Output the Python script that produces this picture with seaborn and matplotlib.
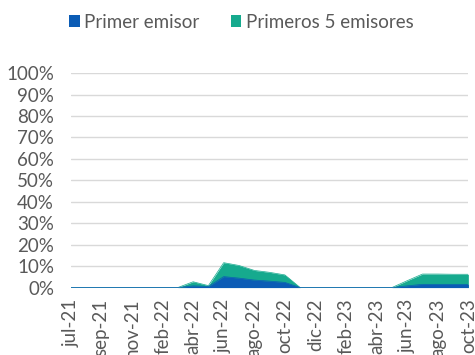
import matplotlib
matplotlib.use("Agg")
import matplotlib.pyplot as plt
import seaborn as sns
import pandas as pd
from matplotlib.patches import Patch
from matplotlib.ticker import PercentFormatter

months = ["jul-21", "ago-21", "sep-21", "oct-21", "nov-21", "dic-21", "feb-22",
          "mar-22", "abr-22", "may-22", "jun-22", "jul-22", "ago-22", "sep-22",
          "oct-22", "nov-22", "dic-22", "ene-23", "feb-23", "mar-23", "abr-23",
          "may-23", "jun-23", "jul-23", "ago-23", "sep-23", "oct-23"]
primer_emisor = [0, 0, 0, 0, 0, 0, 0,
                 0, 0.8, 0.5, 5.1, 4.4, 3.5, 3.0,
                 2.4, 0, 0, 0, 0, 0, 0,
                 0, 0.8, 1.5, 1.5, 1.5, 1.5]
primeros_5 = [0, 0, 0, 0, 0, 0, 0,
              0, 2.7, 0.9, 11.6, 10.3, 8.0, 7.1,
              5.9, 0, 0, 0, 0, 0, 0,
              0, 3.2, 6.3, 6.3, 6.2, 6.2]

C_BLUE = "#0B5CB5"
C_TEAL = "#16AA8E"
TXT = "#595959"
FS = 13.5

sns.set_theme(style="white")
plt.rcParams["font.family"] = ["Lato", "DejaVu Sans"]

df = pd.DataFrame({"x": range(len(months)),
                   "primer": [v / 100 for v in primer_emisor],
                   "top5": [v / 100 for v in primeros_5]})

fig = plt.figure(figsize=(4.75, 3.55), dpi=100)
ax = fig.add_axes([0.149, 0.190, 0.837, 0.604])

for y in [i / 10 for i in range(11)]:
    ax.axhline(y, color="#d9d9d9", lw=1.0, zorder=0)

sns.lineplot(data=df, x="x", y="top5", ax=ax, color=C_TEAL, lw=0.5, zorder=2)
ax.fill_between(df["x"], 0, df["top5"], color=C_TEAL, lw=0, zorder=2)
sns.lineplot(data=df, x="x", y="primer", ax=ax, color=C_BLUE, lw=0.5, zorder=3)
ax.fill_between(df["x"], 0, df["primer"], color=C_BLUE, lw=0, zorder=3)

ax.set_xlim(0, len(months) - 1)
ax.set_ylim(0, 1)
ax.set_yticks([i / 10 for i in range(11)])
ax.yaxis.set_major_formatter(PercentFormatter(1.0, decimals=0))
ax.set_xticks(list(range(0, len(months), 2)))
ax.set_xticklabels(months[::2], rotation=90)
ax.tick_params(axis="both", length=0, labelsize=FS, colors=TXT)
ax.tick_params(axis="x", pad=8)
ax.tick_params(axis="y", pad=12)
ax.set_xlabel("")
ax.set_ylabel("")
for s in ax.spines.values():
    s.set_visible(False)

handles = [Patch(facecolor=C_BLUE, edgecolor="none", label="Primer emisor"),
           Patch(facecolor=C_TEAL, edgecolor="none", label="Primeros 5 emisores")]
leg = fig.legend(handles=handles, loc="center", bbox_to_anchor=(0.508, 0.938),
                 ncol=2, frameon=False, fontsize=FS, handlelength=0.57,
                 handleheight=0.57, handletextpad=0.25, columnspacing=1.65)
for t in leg.get_texts():
    t.set_color(TXT)

fig.savefig("out.png", dpi=100)
